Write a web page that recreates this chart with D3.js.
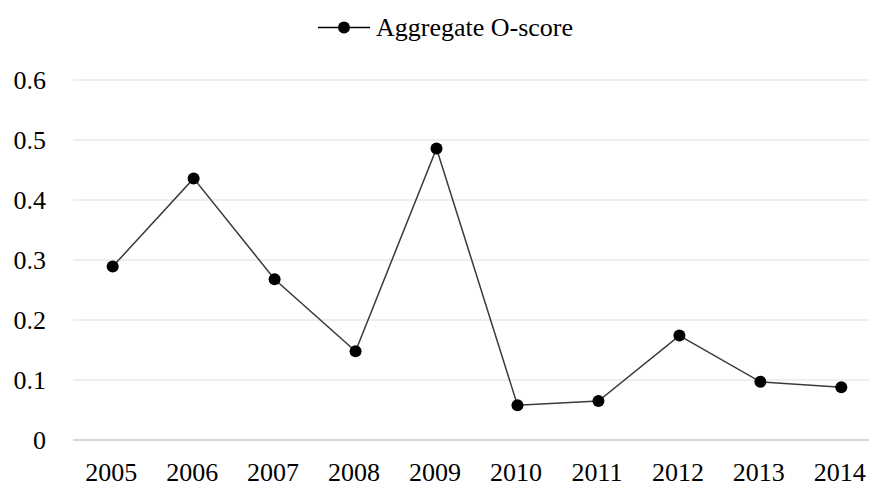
<!DOCTYPE html>
<html>
<head>
<meta charset="utf-8">
<script src="https://cdnjs.cloudflare.com/ajax/libs/d3/7.8.5/d3.min.js"></script>
<style>
  body { margin: 0; background: #fff; overflow: hidden; }
  text { font-family: "Liberation Serif", "Times New Roman", serif; fill: #000; }
</style>
</head>
<body>
<div id="chart"></div>
<script>
// data
var years = ["2005", "2006", "2007", "2008", "2009", "2010", "2011", "2012", "2013", "2014"];
var oscore = [0.289, 0.436, 0.268, 0.148, 0.486, 0.058, 0.065, 0.174, 0.097, 0.088];
var yTicks = [0, 0.1, 0.2, 0.3, 0.4, 0.5, 0.6];
var seriesName = "Aggregate O-score";

var svgWidth = 870;
var svgHeight = 487;

var svg = d3.select("#chart")
  .append("svg")
  .attr("width", svgWidth)
  .attr("height", svgHeight)
  .style("display", "block");

// category axis runs past the right edge of the picture (cropped)
var xScale = d3.scaleBand()
  .domain(years)
  .range([72.2, 881.8]);

var yScale = d3.scaleLinear()
  .domain([0, 0.6])
  .range([440, 80]);

var gridRight = 869;

// gridlines
svg.append("g")
  .selectAll("line")
  .data(yTicks)
  .enter()
  .append("line")
  .attr("x1", 73)
  .attr("x2", gridRight)
  .attr("y1", d => yScale(d))
  .attr("y2", d => yScale(d))
  .attr("stroke", d => d === 0 ? "#c8c8c8" : "#dedede")
  .attr("stroke-width", d => d === 0 ? 1.3 : 1.1);

// y tick labels
svg.append("g")
  .selectAll("text")
  .data(yTicks)
  .enter()
  .append("text")
  .attr("x", 46)
  .attr("y", d => yScale(d))
  .attr("dy", "0.35em")
  .attr("text-anchor", "end")
  .style("font-size", "26px")
  .text(d => d === 0 ? "0" : d3.format(".1f")(d));

// x tick labels
svg.append("g")
  .selectAll("text")
  .data(years)
  .enter()
  .append("text")
  .attr("x", d => xScale(d) + xScale.bandwidth() / 2 - 1.5)
  .attr("y", 481)
  .attr("text-anchor", "middle")
  .style("font-size", "26px")
  .text(d => d);

// line
var line = d3.line()
  .x((d, i) => xScale(years[i]) + xScale.bandwidth() / 2)
  .y(d => yScale(d));

svg.append("path")
  .datum(oscore)
  .attr("d", line)
  .attr("fill", "none")
  .attr("stroke", "#3a3a3a")
  .attr("stroke-width", 1.5);

// markers
svg.append("g")
  .selectAll("circle")
  .data(oscore)
  .enter()
  .append("circle")
  .attr("cx", (d, i) => xScale(years[i]) + xScale.bandwidth() / 2)
  .attr("cy", d => yScale(d))
  .attr("r", 6)
  .attr("fill", "#000");

// legend
var legend = svg.append("g");
legend.append("line")
  .attr("x1", 318)
  .attr("x2", 370)
  .attr("y1", 27.5)
  .attr("y2", 27.5)
  .attr("stroke", "#000")
  .attr("stroke-width", 1.5);
legend.append("circle")
  .attr("cx", 344)
  .attr("cy", 27.5)
  .attr("r", 6)
  .attr("fill", "#000");
legend.append("text")
  .attr("x", 376)
  .attr("y", 36)
  .style("font-size", "26px")
  .text(seriesName);
</script>
</body>
</html>
